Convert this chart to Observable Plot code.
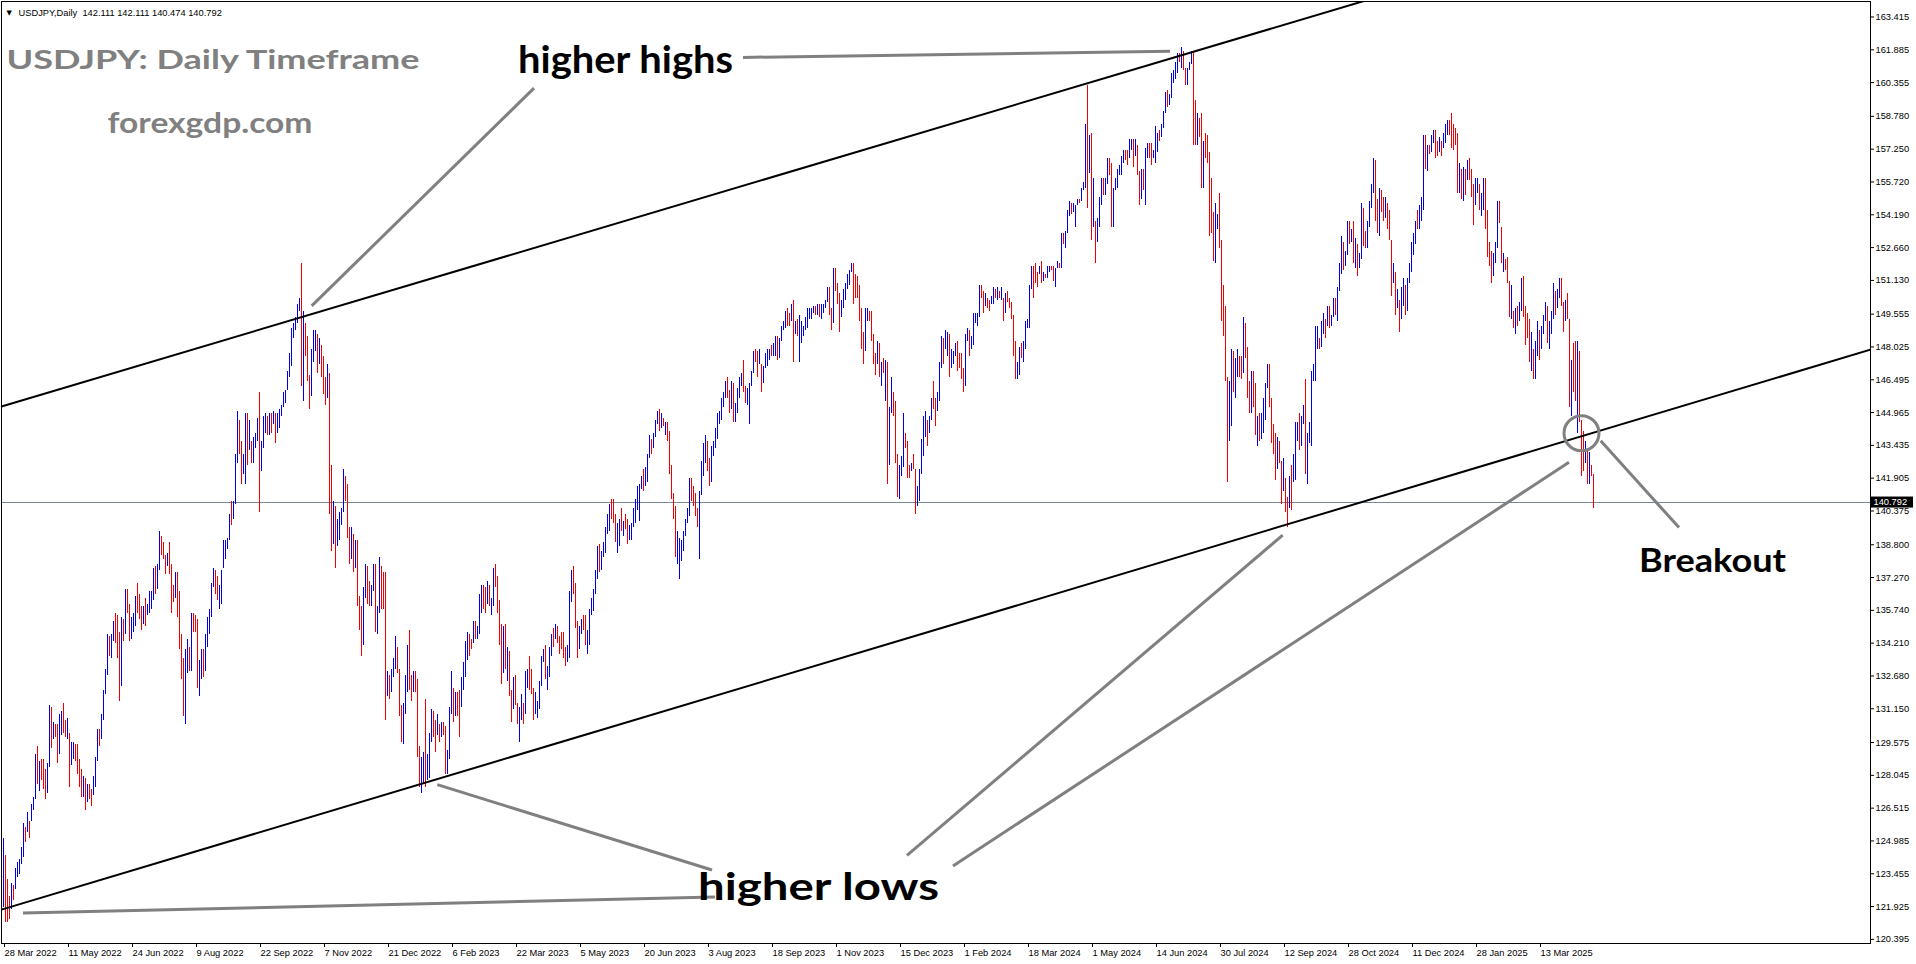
<!DOCTYPE html>
<html><head><meta charset="utf-8">
<script src="https://cdn.jsdelivr.net/npm/d3@7"></script>
<script src="https://cdn.jsdelivr.net/npm/@observablehq/plot@0.6"></script>
<style>
html,body{margin:0;padding:0;background:#fff;overflow:hidden}
#chart svg{display:block}
</style></head><body><div id="chart"></div>
<script>
// ---- header / titles ----
const symbolHeader = "USDJPY,Daily  142.111 142.111 140.474 140.792";
const chartTitle = "USDJPY: Daily Timeframe";
const siteName = "forexgdp.com";
const lastClose = 140.792;

// ---- daily bars (28 Mar 2022 .. 21 Apr 2025), one row per week ----
const lows = [
121.9,121.2,121.2,121.3,121.8, 122.2,122.7,123.3,123.4,123.9, 124.2,124.9,125.4,125.1,125.9, 126.4,126.9,127.6,127.3,127.8,
127.4,126.9,127.2,128.4,129.3, 129.7,129.8,128.6,129.0,129.9, 130.0,129.8,129.7,127.5,128.5, 128.8,128.7,128.1,127.5,127.0,
127.0,126.4,126.8,126.9,126.6, 127.1,127.5,128.7,129.4,129.7, 130.6,131.8,132.7,133.6,133.5, 134.3,134.2,133.5,131.5,132.2,
134.3,134.6,135.6,134.3,134.4, 134.7,135.0,135.6,135.3,134.8, 135.1,135.0,135.5,135.6,135.8, 136.2,136.5,136.7,137.6,138.3,
138.1,137.4,137.8,137.4,135.6, 136.1,136.3,135.4,133.9,132.5, 130.8,130.4,132.8,132.9,132.9, 134.7,134.7,132.1,131.7,132.5,
132.6,132.9,134.0,134.6,135.4, 136.8,136.5,136.2,135.8,136.0, 137.7,138.1,138.6,139.0,139.7, 140.0,140.7,142.6,143.0,141.6,
142.1,141.6,142.5,143.2,142.6, 142.6,143.3,143.6,140.3,142.2, 143.3,144.0,143.9,143.9,144.0, 144.4,143.5,144.0,144.2,144.8,
145.2,145.4,146.0,146.6,147.1, 148.4,148.8,149.1,149.7,146.2, 145.5,147.6,146.4,145.1,145.7, 147.3,147.8,146.8,147.2,146.6,
145.8,145.3,145.6,140.2,138.5, 138.8,137.7,138.7,139.0,139.7, 140.3,140.8,139.1,137.9,138.1, 137.5,137.7,135.9,134.8,133.6,
134.1,136.3,136.0,135.9,135.9, 136.6,134.7,134.6,135.6,135.8, 135.8,130.6,131.7,131.6,131.9, 132.6,133.0,132.8,130.8,
129.6,129.5,130.9,131.9,132.0, 131.5,131.9,131.9,128.9,127.5, 127.2,127.6,127.5,127.8,127.9, 129.6,129.8,129.1,129.9,129.6,
129.8,129.9,128.1,128.1,128.8, 130.9,130.5,130.8,130.8,129.8, 131.2,132.0,132.6,133.4,133.6, 133.9,134.2,134.4,134.4,134.6,
135.6,135.8,135.6,136.0,135.9, 135.5,135.9,136.8,135.6,134.1, 132.3,132.8,133.0,132.4,131.7, 130.5,131.1,131.3,130.4,129.6,
130.6,130.4,130.9,132.1,132.0, 131.8,130.6,130.9,130.7,131.1, 132.2,133.3,132.5,132.0,132.6, 133.6,134.0,134.4,134.2,133.7,
133.9,133.5,133.1,133.3,133.5, 136.1,136.5,134.9,133.5,133.9, 134.6,134.8,134.1,133.7,134.1, 135.5,135.7,136.5,137.2,137.5,
137.6,138.2,138.4,139.3,139.4, 140.0,139.8,138.9,138.4,138.7, 139.4,139.2,139.5,138.8,139.0, 139.0,139.6,139.8,140.4,139.9,
141.4,141.3,141.5,141.7,142.8, 143.0,143.3,143.8,144.4,144.1, 144.2,144.3,143.9,143.6,142.1, 140.9,140.0,138.2,137.9,137.2,
138.0,138.5,139.2,139.8,140.1, 140.8,140.6,140.1,139.6,138.1, 141.1,142.0,142.6,142.2,141.5, 141.7,142.9,143.3,143.7,144.4,
144.6,145.2,145.6,145.6,144.9, 145.1,144.5,144.5,144.9,145.6, 146.2,145.9,145.4,145.3,144.4, 146.2,146.8,147.3,146.6,147.2,
145.9,146.3,147.0,147.1,147.4, 147.6,147.6,147.6,147.4,147.5, 148.3,148.8,148.9,149.0,149.0, 149.2,147.3,148.6,148.5,147.3,
148.2,148.5,148.8,148.9,149.3, 149.3,149.6,149.5,149.5,149.4, 149.3,149.6,149.8,150.1,149.5, 148.8,149.1,150.6,150.0,148.7,
149.4,149.8,150.2,150.7,150.9, 151.5,150.0,150.3,150.3,149.2, 147.9,147.2,147.8,149.2,149.2, 148.3,147.2,146.7,147.2,146.6,
146.2,146.8,145.5,141.6,142.5, 144.9,144.8,142.6,141.0,140.9, 142.0,142.4,143.3,141.9,141.9, 142.2,142.3,140.2,140.6,
140.8,142.1,142.9,143.8, 143.4,144.0,144.6,145.1,144.3, 145.0,145.5,147.0,147.2,147.9, 147.6,146.6,147.0,147.2,147.6,
146.9,147.0,146.5,145.9,146.2, 148.3,147.6,147.9,148.1,149.1, 149.0,149.4,150.3,149.6,149.9, 149.8,149.7,150.0,150.0,150.3,
150.2,150.3,150.2,149.2,149.6, 150.1,149.8,149.3,147.6,146.5, 146.5,146.7,147.5,147.3,147.9, 148.9,148.9,150.7,150.3,151.0,
150.8,151.4,151.0,151.1,151.2, 151.2,151.5,151.6,151.1,150.8, 151.7,151.7,151.7,152.8,152.6, 153.3,154.1,154.2,154.3,153.6,
154.6,154.7,154.8,155.3,155.4, 154.5,156.1,153.0,153.6,151.9, 152.9,153.6,154.6,155.1,155.1, 155.6,156.0,153.6,153.6,155.3,
155.4,156.0,156.0,156.6,156.7, 156.5,156.8,157.2,156.4,156.9, 156.0,154.6,154.9,155.3,154.6, 156.8,156.8,156.5,156.8,156.6,
157.1,157.6,157.8,158.2,158.9, 159.2,159.3,159.6,160.3,160.5, 160.8,161.3,161.0,160.9,160.2, 160.2,160.9,161.2,157.4,157.4,
157.4,157.8,155.4,155.4,156.8, 156.6,153.2,153.3,152.0,151.9, 153.5,152.6,149.2,148.5,146.4, 141.7,143.6,144.3,145.9,145.6,
146.6,146.6,146.5,146.8,147.5, 145.6,144.9,144.9,145.2,143.9, 143.4,143.6,143.7,144.0,144.6, 146.1,145.2,143.5,143.0,141.8,
142.3,142.6,140.7,141.3,140.3, 139.6,140.5,140.4,141.7,141.8, 143.6,143.2,143.4,144.4,142.1, 141.6,143.5,143.4,146.4,146.4,
147.9,147.9,148.0,148.6,148.4, 149.0,148.9,149.0,149.4,149.5, 149.2,150.6,151.4,151.6,151.8, 152.3,152.8,152.9,151.9,151.7,
151.3,151.7,152.1,152.7,152.6, 152.6,153.6,154.5,155.2,153.9, 153.3,153.2,154.3,153.9,154.0, 153.5,153.0,150.4,151.0,149.5,
149.8,148.7,149.3,149.9,149.5, 149.7,151.0,151.5,152.3,152.8, 153.5,153.5,153.9,154.4,156.3, 156.2,157.0,157.1,157.5,
156.8,156.9,157.1,156.9, 157.3,157.5,157.9,157.9,157.3, 157.2,157.4,155.2,155.2,154.9, 154.8,155.1,155.8,155.8,155.0,
153.7,154.6,155.2,154.4,154.1, 154.4,153.5,152.2,151.8,151.0, 151.3,151.9,152.6,153.8,151.9, 151.5,151.6,151.0,149.4,149.3,
148.9,148.6,149.0,149.2,149.7, 149.4,148.1,148.4,147.3,146.9, 146.5,146.5,147.6,147.4,147.9, 148.6,149.2,148.2,147.9,148.6,
149.3,149.5,149.8,150.3,149.9, 148.7,149.2,149.3,145.2,144.8, 145.9,145.5,144.0,144.5,142.0, 142.2,142.6,141.6,141.6,142.0,
140.5
];
const highs = [
125.1,124.3,123.2,122.4,123.0, 122.9,123.7,124.0,124.1,124.7, 125.8,125.6,126.3,125.9,126.7, 127.0,129.0,129.4,128.7,128.8,
128.8,128.3,128.6,131.3,131.2, 130.5,130.4,130.4,130.9,131.0, 131.4,130.6,130.7,130.0,129.6, 129.6,129.5,129.5,128.8,128.3,
128.0,127.9,127.6,127.6,127.4, 128.0,128.9,130.2,130.2,130.9, 132.0,133.0,134.6,134.5,134.6, 135.2,135.6,135.5,134.7,135.4,
135.3,136.7,136.7,136.0,135.4, 135.6,136.4,137.0,136.5,135.9, 135.9,136.3,136.0,136.6,136.6, 137.7,137.8,137.9,139.4,139.2,
138.9,138.3,138.4,138.9,137.9, 136.9,137.5,137.5,136.6,134.6, 133.5,133.9,134.4,134.0,135.6, 135.6,135.5,135.3,133.4,133.9,
133.9,134.6,135.4,135.8,137.0, 137.7,137.6,137.3,136.9,137.6, 139.0,139.0,139.1,140.2,140.8, 140.8,143.0,145.0,144.6,143.6,
143.0,144.9,144.9,144.6,143.6, 143.8,144.0,144.7,145.9,143.6, 144.8,144.9,144.8,144.9,144.9, 145.0,144.9,144.9,145.1,145.3,
145.9,146.0,146.9,147.7,148.9, 149.1,149.4,150.0,150.3,151.9, 149.7,149.1,148.5,146.7,147.9, 148.8,148.8,148.6,148.4,148.1,
147.6,146.6,147.2,146.8,142.5, 140.8,140.6,140.0,140.3,140.5, 142.3,142.0,141.6,139.6,139.6, 139.3,139.0,139.0,136.4,135.9,
136.8,137.9,137.8,137.1,136.9, 137.9,137.9,135.9,138.2,137.8, 137.5,137.5,132.9,132.7,133.0, 133.5,134.5,134.0,133.0,
131.3,131.4,132.7,134.1,134.8, 132.7,132.9,132.9,132.5,129.4, 128.9,129.1,131.6,129.0,130.0, 131.1,131.0,130.6,130.9,130.4,
130.5,130.5,130.3,129.2,131.2, 132.9,132.1,131.9,131.9,132.0, 132.6,133.3,134.3,134.7,134.6, 134.4,135.2,135.2,135.0,136.5,
136.9,136.9,136.8,137.1,136.9, 136.3,137.7,137.9,137.3,136.2, 135.1,135.0,135.1,134.0,133.8, 132.0,132.6,132.7,131.4,131.2,
131.8,131.4,132.9,133.0,133.6, 133.0,132.1,131.9,131.5,132.4, 133.6,133.9,134.1,133.1,134.0, 134.6,134.9,135.1,135.0,134.5,
134.7,134.7,134.0,134.1,136.6, 137.6,137.8,137.0,135.2,135.0, 135.3,135.5,135.5,134.8,135.8, 136.3,136.7,137.6,138.7,138.8,
138.5,138.9,139.6,140.2,140.7, 140.9,140.9,140.2,139.8,140.0, 140.5,139.9,140.2,140.0,139.7, 139.8,140.5,140.9,141.5,141.6,
142.0,142.3,142.4,143.0,143.9, 143.7,144.0,144.6,145.0,145.1, 144.9,144.7,144.5,144.5,144.1, 142.5,141.2,140.6,139.4,139.1,
139.0,139.4,140.0,140.5,141.9, 141.9,141.5,141.2,140.5,141.3, 142.7,143.5,143.9,143.6,142.8, 143.4,143.6,144.2,144.9,145.0,
145.6,145.9,146.4,146.6,146.0, 146.4,146.3,145.4,146.1,146.6, 146.8,147.4,146.2,146.1,146.3, 146.9,147.8,147.9,147.8,147.9,
147.2,147.1,147.7,147.9,147.9, 148.1,148.2,148.5,148.5,148.4, 149.0,149.2,149.7,149.8,149.6, 150.0,150.2,149.2,149.3,149.5,
149.2,149.0,149.4,149.8,149.8, 149.8,149.9,149.9,150.0,150.0, 150.0,150.0,150.2,150.8,150.8, 149.8,151.7,151.7,151.0,150.5,
150.2,150.7,151.0,151.4,151.6, 151.9,151.9,151.4,151.3,150.9, 149.8,148.7,149.8,149.8,149.7, 149.7,148.6,147.7,148.3,148.2,
147.3,147.5,147.4,147.3,145.2, 146.6,145.9,145.5,143.0,142.5, 142.9,144.9,144.0,143.6,142.5, 142.6,143.0,142.3,141.5,
142.3,143.7,144.8,145.0, 144.6,144.8,145.6,146.4,145.6, 145.9,147.3,148.5,148.4,148.8, 148.7,148.6,147.9,147.8,148.2,
148.3,147.7,147.7,147.0,148.6, 148.9,148.8,148.5,149.6,149.6, 149.6,150.9,150.9,150.6,150.5, 150.3,150.2,150.4,150.8,150.7,
150.8,150.6,150.8,150.3,150.5, 150.6,150.3,150.1,149.5,148.3, 147.3,148.0,148.2,148.3,149.2, 149.3,150.9,151.8,151.8,151.9,
151.5,151.8,152.0,151.5,151.4, 151.8,151.8,151.8,151.8,151.7, 152.0,151.9,153.3,153.3,153.4, 154.4,154.8,154.7,154.7,154.6,
154.9,154.9,155.4,155.7,158.4, 160.2,157.9,158.0,155.9,153.9, 154.0,155.0,155.9,155.9,155.9, 156.8,156.8,156.6,155.4,155.9,
156.3,156.5,156.9,157.2,157.2, 157.2,157.7,157.7,157.7,157.7, 157.4,156.2,156.3,156.3,157.3, 157.5,157.5,157.5,157.2,158.3,
158.0,158.1,158.4,159.0,159.9, 160.0,159.8,160.8,160.9,161.3, 161.7,161.7,162.0,161.8,161.0, 161.0,161.3,161.8,161.8,159.5,
158.9,158.7,158.9,157.6,158.0, 157.9,157.1,155.9,154.3,154.7, 154.2,155.2,153.0,150.9,149.9, 146.6,146.4,147.9,147.8,147.5,
147.9,147.6,147.6,149.4,149.1, 148.0,146.4,146.9,146.9,146.3, 144.8,144.9,144.9,145.6,146.3, 147.2,147.2,145.6,144.4,144.0,
143.8,143.6,142.7,142.8,141.9, 141.0,142.0,142.5,143.0,144.5, 144.5,144.9,144.8,145.3,146.5, 144.0,144.5,146.9,147.2,149.0,
149.0,148.4,149.2,149.6,149.3, 149.9,149.9,149.5,150.3,150.3, 150.8,151.9,153.2,152.9,152.5, 153.9,153.9,153.5,153.9,153.1,
152.8,152.4,154.7,154.5,153.4, 153.9,154.8,155.6,156.8,156.7, 154.9,155.4,155.3,155.0,155.0, 154.7,154.4,153.0,151.9,151.5,
150.7,150.2,150.8,151.2,150.9, 151.2,151.9,152.9,153.3,153.9, 154.4,154.6,155.0,157.9,157.9, 157.4,157.4,157.9,158.1,
158.1,157.6,157.8,157.6, 158.0,158.4,158.6,158.6,158.9, 158.4,158.2,158.0,156.6,156.3, 156.4,156.3,156.7,156.8,156.3,
155.6,155.9,155.9,155.6,155.2, 155.9,155.9,154.4,152.9,152.5, 152.4,152.9,154.8,154.8,153.6, 152.4,152.1,152.2,151.1,150.9,
149.7,149.8,149.9,150.1,151.2, 151.3,149.9,149.6,149.3,148.7, 147.9,148.3,149.2,148.8,149.0, 149.5,150.1,149.9,149.2,149.7,
151.0,150.6,150.7,151.2,151.2, 150.1,150.2,150.5,149.3,147.4, 148.2,148.3,148.3,147.8,144.6, 144.1,143.6,143.2,143.1,142.5,
142.1
];
// 1 = bullish (blue) bar, 0 = bearish (red) bar
const ups = [
1,0,0,0,1, 0,1,1,1,1, 1,0,1,0,1, 1,1,0,1,0,
0,0,1,1,0, 1,0,0,1,1, 0,0,1,0,1, 1,0,0,0,0,
1,0,1,0,0, 1,1,1,0,1, 1,1,1,0,1, 1,0,0,0,1,
0,1,0,0,1, 1,1,0,0,0, 1,0,1,1,1, 1,0,1,1,0,
0,0,1,0,0, 0,1,0,0,0, 0,1,1,0,1, 0,0,0,1,1,
0,1,1,1,1, 1,0,0,1,1, 1,1,1,1,0, 1,1,1,0,0,
1,1,0,1,0, 1,1,1,0,1, 1,1,0,1,0, 1,0,1,1,1,
1,1,1,1,1, 1,1,1,1,0, 1,0,0,0,1, 1,1,0,1,0,
0,0,1,0,0, 1,0,1,1,1, 1,0,0,0,1, 0,1,0,0,0,
1,1,0,0,1, 1,0,1,1,0, 0,0,1,0,1, 1,1,0,0,
0,1,1,1,0, 0,1,0,0,0, 1,1,0,1,1, 1,0,0,1,0,
1,0,0,1,1, 1,0,1,0,0, 1,1,1,1,0, 0,1,0,1,1,
1,0,0,1,0, 1,1,0,0,0, 0,1,0,1,0, 0,1,0,0,1,
1,0,1,1,0, 0,0,1,1,1, 1,1,0,1,1, 1,0,1,0,0,
0,0,0,1,1, 1,0,0,0,1, 1,0,0,1,1, 1,1,1,1,0,
1,1,1,1,1, 0,0,0,1,1, 0,1,0,0,1, 1,1,1,1,1,
1,0,1,1,1, 0,1,1,1,0, 1,0,1,0,0, 0,0,0,1,1,
1,1,1,1,1, 0,0,0,0,1, 1,1,1,0,0, 1,1,1,1,1,
1,1,1,0,0, 1,0,1,1,1, 1,0,0,1,1, 1,1,0,0,1,
0,1,1,1,1, 0,1,1,0,1, 1,1,1,0,0, 1,0,1,0,1,
1,1,1,1,1, 1,1,0,1,0, 1,1,1,1,0, 0,1,0,0,0,
1,1,1,1,1, 1,0,0,0,0, 0,0,1,1,0, 0,0,0,1,0,
1,0,1,0,1, 1,0,0,0,1, 1,1,0,0,0, 1,0,0,1,
1,1,1,1, 0,1,1,0,0, 1,1,1,0,1, 1,0,1,1,1,
0,0,0,0,1, 1,0,1,1,1, 1,1,0,0,1, 0,0,1,1,0,
1,0,1,0,1, 0,0,0,0,0, 1,1,0,1,1, 1,1,1,0,0,
0,1,0,1,0, 1,1,0,0,1, 1,0,1,0,1, 1,1,0,1,1,
1,0,1,1,1, 0,1,0,1,0, 1,1,1,0,1, 1,0,0,1,1,
1,1,1,1,0, 0,1,1,0,1, 0,0,1,0,1, 1,0,0,1,1,
1,0,1,1,1, 0,1,1,1,1, 1,0,1,0,0, 1,1,1,0,0,
1,0,0,1,0, 0,0,0,0,1, 1,0,0,0,0, 0,1,1,0,1,
1,0,0,1,0, 0,0,1,0,0, 1,0,1,1,1, 1,0,0,0,0,
1,0,0,1,0, 0,1,0,1,1, 1,0,1,1,0, 1,1,1,1,1,
1,0,1,1,0, 1,0,1,1,0, 1,1,1,0,1, 1,0,1,0,1,
0,1,1,0,0, 1,1,1,1,0, 0,1,0,0,1, 0,0,0,1,0,
1,0,1,1,0, 1,1,1,1,1, 0,1,1,1,0, 1,0,1,1,
0,0,1,0, 1,1,1,0,0, 0,0,0,1,0, 1,0,1,0,0,
0,1,1,0,1, 1,0,0,0,0, 1,1,1,0,0, 1,0,0,0,1,
0,1,0,1,1, 0,0,0,0,1, 0,1,1,0,1, 1,1,0,1,1,
1,0,1,1,0, 0,1,0,0,1, 0,0,1,0,0, 0,1,0,1,0,
0
];

// ---- axes ----
const xTickBars = [0,32,64,96,128,160,192,224,256,288,320,352,384,416,448,480,512,544,576,608,640,672,704,736,768];
const xTickLabels = ["28 Mar 2022","11 May 2022","24 Jun 2022","9 Aug 2022","22 Sep 2022","7 Nov 2022","21 Dec 2022",
  "6 Feb 2023","22 Mar 2023","5 May 2023","20 Jun 2023","3 Aug 2023","18 Sep 2023","1 Nov 2023","15 Dec 2023",
  "1 Feb 2024","18 Mar 2024","1 May 2024","14 Jun 2024","30 Jul 2024","12 Sep 2024","28 Oct 2024","11 Dec 2024",
  "28 Jan 2025","13 Mar 2025"];
const yTicks = [163.415,161.885,160.355,158.780,157.250,155.720,154.190,152.660,151.130,149.555,148.025,146.495,
  144.965,143.435,141.905,140.375,138.800,137.270,135.740,134.210,132.680,131.150,129.575,128.045,126.515,124.985,
  123.455,121.925,120.395];

// ---- channel trend lines (bar index, price) ----
const upperBars = [-1, 700];
const upperPrices = [145.25, 164.71];
const lowerBars = [-1, 933.5];
const lowerPrices = [121.78, 147.90];

// ---- annotation pointers (bar index, price) ----
const arrowBar1  = [369.75, 265.25,   9.75, 216.9, 639.6, 782.75, 798.6];
const arrowPrc1  = [161.53, 160.10, 121.62, 127.61, 139.25, 142.65, 143.65];
const arrowBar2  = [583.25, 154.1, 355.75, 354.25, 451.75, 474.75, 837.75];
const arrowPrc2  = [161.82, 149.94, 122.37, 123.63, 124.31, 123.82, 139.60];
const circleBar = [789];
const circlePrice = [144.0];

const labelTexts  = ["higher highs", "higher lows", "Breakout"];
const labelBars   = [257.25, 347.25, 817.75];
const labelPrices = [160.80, 122.23, 137.54];
const labelSizes  = [38, 38, 33];
const labelWidths = [215, 241, 147];

// ---- build tables ----
const n = Math.min(lows.length, highs.length, ups.length);
const bars = d3.range(n).map(i => ({i, low: lows[i], high: highs[i], up: ups[i] === 1}));
const upper = upperBars.map((b, k) => ({b, p: upperPrices[k]}));
const lower = lowerBars.map((b, k) => ({b, p: lowerPrices[k]}));
const arrows = arrowBar1.map((b, k) => ({x1: b, y1: arrowPrc1[k], x2: arrowBar2[k], y2: arrowPrc2[k]}));
const circles = circleBar.map((b, k) => ({b, p: circlePrice[k]}));
const labels = labelTexts.map((t, k) => ({t, b: labelBars[k], p: labelPrices[k], s: labelSizes[k]}));

const GRAY = "#808080";
const AXISFONT = "Liberation Sans, Arial, sans-serif";

const plot = Plot.plot({
  width: 1916, height: 964,
  marginLeft: 1, marginRight: 46, marginTop: 1, marginBottom: 21,
  x: {domain: [-1, 933.5], axis: null},
  y: {domain: [120.202, 164.138], axis: null},
  style: {fontFamily: AXISFONT, fontSize: "9.3px", background: "#fff", color: "#000", overflow: "visible"},
  marks: [
    Plot.ruleY([lastClose], {stroke: "#778899", strokeWidth: 1, shapeRendering: "crispEdges"}),
    Plot.ruleX(bars.filter(d => d.up), {x: "i", y1: "low", y2: "high", stroke: "#0000e6", strokeWidth: 1, shapeRendering: "crispEdges"}),
    Plot.ruleX(bars.filter(d => !d.up), {x: "i", y1: "low", y2: "high", stroke: "#f00000", strokeWidth: 1, shapeRendering: "crispEdges"}),
    Plot.line(upper, {x: "b", y: "p", stroke: "#000", strokeWidth: 2, clip: true}),
    Plot.line(lower, {x: "b", y: "p", stroke: "#000", strokeWidth: 2, clip: true}),
    Plot.link(arrows, {x1: "x1", y1: "y1", x2: "x2", y2: "y2", stroke: GRAY, strokeWidth: 3}),
    Plot.dot(circles, {x: "b", y: "p", r: 17.5, stroke: GRAY, strokeWidth: 3, fill: "none"}),
    ...labels.map(l => Plot.text([l], {x: "b", y: "p", text: "t", textAnchor: "start", lineAnchor: "bottom",
      fontFamily: "Lato, Open Sans, sans-serif", fontWeight: "bold", fontSize: l.s, fill: "#000"})),
    Plot.text([chartTitle], {frameAnchor: "top-left", dx: 5, dy: 67, textAnchor: "start", lineAnchor: "bottom",
      fontFamily: "Lato, Open Sans, sans-serif", fontWeight: "bold", fontSize: 27, fill: GRAY}),
    Plot.text([siteName], {frameAnchor: "top-left", dx: 106, dy: 131, textAnchor: "start", lineAnchor: "bottom",
      fontFamily: "Lato, Open Sans, sans-serif", fontWeight: "bold", fontSize: 28, fill: GRAY}),
    Plot.text(["\u25BC"], {frameAnchor: "top-left", dx: 5, dy: 13.5, textAnchor: "start", lineAnchor: "bottom",
      fontFamily: "DejaVu Sans", fontSize: 7, fill: "#000"}),
    Plot.text([symbolHeader], {frameAnchor: "top-left", dx: 17, dy: 14.5, textAnchor: "start", lineAnchor: "bottom",
      fontFamily: AXISFONT, fontSize: 9.3, fill: "#000"}),
    Plot.axisY(yTicks, {anchor: "right", tickSize: 3, tickPadding: 2, tickFormat: d => d.toFixed(3), label: null}),
    Plot.axisX(xTickBars, {anchor: "bottom", tickSize: 4, tickPadding: 2, textAnchor: "start", dx: 1, label: null,
      tickFormat: d => xTickLabels[xTickBars.indexOf(d)]}),
    Plot.frame({stroke: "#000", shapeRendering: "crispEdges"})
  ]
});

// price tag for the last close
const svg = d3.select(plot);
const py = plot.scale("y").apply(lastClose) + 0.5;
svg.append("rect").attr("x", 1871).attr("y", py - 5.5).attr("width", 42).attr("height", 11).attr("fill", "#000");
svg.append("text").attr("x", 1873.5).attr("y", py + 3.4).attr("fill", "#fff").attr("text-anchor", "start")
  .attr("font-family", AXISFONT).attr("font-size", 9.3).text(lastClose.toFixed(3));

// fit the big labels to their measured widths
const widths = {[chartTitle]: 413, [siteName]: 205};
labelTexts.forEach((t, k) => widths[t] = labelWidths[k]);
plot.querySelectorAll("text").forEach(el => {
  const w = widths[el.textContent];
  if (w) { el.setAttribute("textLength", w); el.setAttribute("lengthAdjust", "spacingAndGlyphs"); }
});

document.getElementById("chart").appendChild(plot);
</script>
</body></html>
